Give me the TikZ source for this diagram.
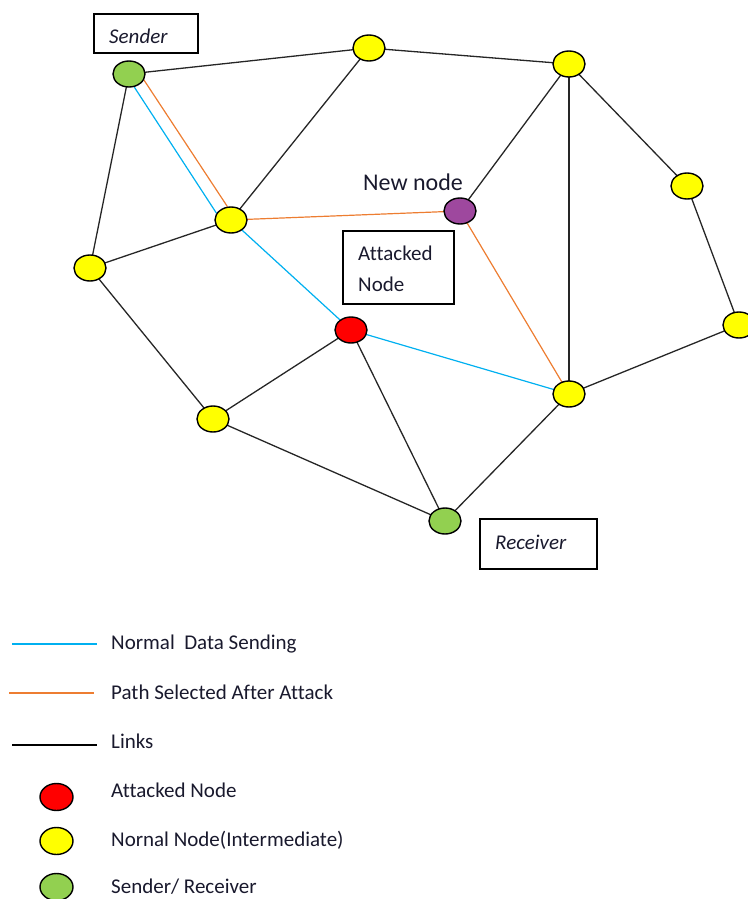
\documentclass[tikz,border=0pt]{standalone}
\usepackage{fontspec}
\setmainfont[Ligatures={NoCommon}]{Carlito}
\usetikzlibrary{shapes.geometric,backgrounds}
\definecolor{nyellow}{RGB}{255,255,0}
\definecolor{ngreen}{RGB}{146,208,80}
\definecolor{nred}{RGB}{255,0,0}
\definecolor{npurple}{RGB}{158,72,158}
\definecolor{lblue}{RGB}{0,176,240}
\definecolor{lorange}{RGB}{237,125,49}
\definecolor{ltext}{RGB}{25,25,45}
\tikzset{
  net/.style={ellipse,draw=black,line width=1.4pt,minimum width=32pt,minimum height=26pt,inner sep=0pt},
  yel/.style={net,fill=nyellow},
  grn/.style={net,fill=ngreen},
  rednode/.style={net,fill=nred},
  pur/.style={net,fill=npurple},
  link/.style={draw=black!85,line width=1.3pt},
  bluepath/.style={draw=lblue,line width=1.2pt},
  orangepath/.style={draw=lorange,line width=1.2pt},
  labelbox/.style={draw=black,line width=1.3pt},
  txt/.style={text=ltext,font=\fontsize{21}{24}\selectfont,inner sep=0pt,anchor=base west},
  legtxt/.style={txt}
}
\begin{document}
\begin{tikzpicture}[x=1pt,y=-1pt]
\useasboundingbox (0,0) rectangle (747,899);
% nodes
\node[grn] (S) at (129,74) {};
\node[yel] (A) at (369,48) {};
\node[yel] (B) at (569,64) {};
\node[yel] (C) at (687,186) {};
\node[yel] (D) at (739,325) {};
\node[yel] (E) at (569,394) {};
\node[grn] (R) at (445,521) {};
\node[yel] (F) at (213,419) {};
\node[yel] (G) at (90,268) {};
\node[yel] (H) at (231,220) {};
\node[rednode] (X) at (351,330) {};
\node[pur] (N) at (460,211) {};
\begin{pgfonlayer}{background}
% links
\draw[link] (S.center) -- (A.center);
\draw[link] (A.center) -- (B.center);
\draw[link] (S.center) -- (G.center);
\draw[link] (G.center) -- (H.center);
\draw[link] (H.center) -- (A.center);
\draw[link] (B.center) -- (N.center);
\draw[link] (B.center) -- (E.center);
\draw[link] (B.center) -- (C.center);
\draw[link] (C.center) -- (D.center);
\draw[link] (D.center) -- (E.center);
\draw[link] (E.center) -- (R.center);
\draw[link] (R.center) -- (X.center);
\draw[link] (R.center) -- (F.center);
\draw[link] (F.center) -- (X.center);
\draw[link] (G.center) -- (F.center);
% paths
\draw[orangepath] (S.-22) -- (H.105);
\draw[bluepath] (S.-68) -- (H.155);
\draw[bluepath] (H.center) -- (X.center);
\draw[bluepath] (X.center) -- (E.center);
\draw[orangepath] (H.center) -- (N.center);
\draw[orangepath] (N.center) -- (E.center);
\end{pgfonlayer}
% boxes
\node[labelbox,minimum width=104pt,minimum height=39pt,inner sep=0pt] (sbox) at (146,33.5) {};
\node[txt,font=\fontsize{21}{24}\selectfont\itshape] (stxt) at (109,44) {Sender};
\node[labelbox,minimum width=111pt,minimum height=73pt,inner sep=0pt] (abox) at (398.5,267.5) {};
\node[txt] (atxt1) at (358,260) {Attacked};
\node[txt] (atxt2) at (358,291) {Node};
\node[labelbox,minimum width=117pt,minimum height=50pt,inner sep=0pt] (rbox) at (538.5,544) {};
\node[txt,font=\fontsize{21}{24}\selectfont\itshape] (rtxt) at (495,549) {Receiver};
\node[txt,font=\fontsize{24}{28}\selectfont] (ntxt) at (363,190) {New node};
% legend
\coordinate (l1a) at (12,644); \coordinate (l1b) at (97,644);
\coordinate (l2a) at (9,693); \coordinate (l2b) at (94,693);
\coordinate (l3a) at (12,745); \coordinate (l3b) at (97,745);
\draw[bluepath] (l1a) -- (l1b);
\draw[orangepath] (l2a) -- (l2b);
\draw[link,draw=black] (l3a) -- (l3b);
\node[legtxt] (t1) at (111,649) {Normal\ \ Data Sending};
\node[legtxt] (t2) at (111,699) {Path Selected After Attack};
\node[legtxt] (t3) at (111,748) {Links};
\node[rednode,minimum width=33pt,minimum height=27pt] (k1) at (56.5,797) {};
\node[yel,minimum width=33pt,minimum height=27pt] (k2) at (56.5,841) {};
\node[grn,minimum width=33pt,minimum height=27pt] (k3) at (56.5,887) {};
\node[legtxt] (t4) at (111,797) {Attacked Node};
\node[legtxt] (t5) at (111,846) {Nornal Node(Intermediate)};
\node[legtxt] (t6) at (111,893) {Sender/ Receiver};
\end{tikzpicture}
\end{document}
